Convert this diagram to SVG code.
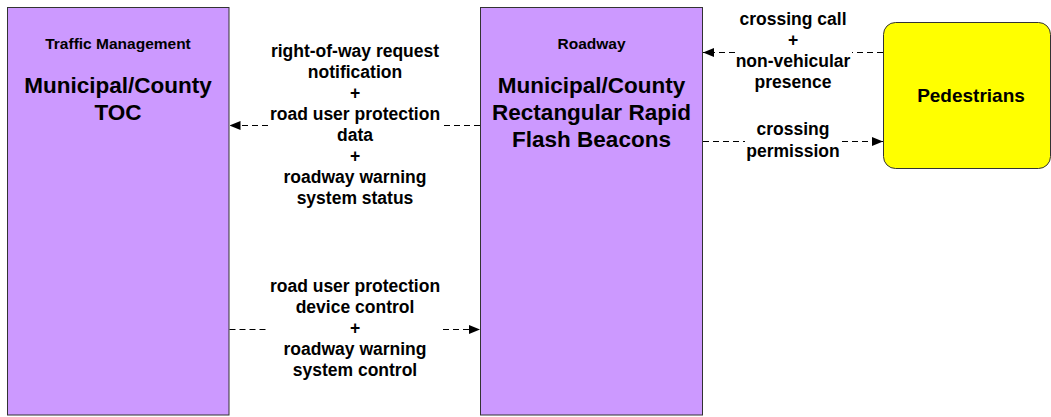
<svg xmlns="http://www.w3.org/2000/svg" width="1051" height="417" viewBox="0 0 1051 417">
<style>
text{font-family:"Liberation Sans",Arial,sans-serif;font-weight:bold;fill:#000;text-anchor:middle}
.box{fill:#CC99FF;stroke:#333;stroke-width:1}
.ext{fill:#FFFF00;stroke:#333;stroke-width:1}
.cat{font-size:15.5px}
.name{font-size:22.5px}
.ped{font-size:19px}
.lbl{font-size:17.5px}
.flow{fill:none;stroke:#000;stroke-width:1;stroke-dasharray:6,4}
</style>
<defs>
<marker id="arr" markerUnits="userSpaceOnUse" markerWidth="11" markerHeight="9" refX="11" refY="4.5" orient="auto">
<path d="M0,0 L11,4.5 L0,9 Z" fill="#000"/>
</marker>
</defs>
<rect width="1051" height="417" fill="#fff"/>
<g id="toc">
<rect class="box" x="7.5" y="7.5" width="221.5" height="407.5"/>
<text class="cat" x="118" y="49">Traffic Management</text>
<text class="name" x="118" y="92.7">Municipal/County</text>
<text class="name" x="118" y="120">TOC</text>
</g>
<g id="rrfb">
<rect class="box" x="480.5" y="7.5" width="222" height="407.5"/>
<text class="cat" x="591.5" y="49.3">Roadway</text>
<text class="name" x="591.5" y="92.7">Municipal/County</text>
<text class="name" x="591.5" y="120">Rectangular Rapid</text>
<text class="name" x="591.5" y="147.3">Flash Beacons</text>
</g>
<g id="pedestrians">
<rect class="ext" x="883.5" y="22.5" width="167" height="146" rx="12" ry="12"/>
<text class="ped" x="971" y="101.7">Pedestrians</text>
</g>
<g id="connectors">
<path class="flow" d="M480,125.5 L442,125.5 M268,125.5 L229.5,125.5" marker-end="url(#arr)"/>
<path class="flow" d="M229.5,329.5 L268,329.5 M443,329.5 L480,329.5" marker-end="url(#arr)"/>
<path class="flow" d="M883,52.5 L852,52.5 M735,52.5 L703,52.5" marker-end="url(#arr)"/>
<path class="flow" d="M703,141.5 L745,141.5 M842,141.5 L883,141.5" marker-end="url(#arr)"/>
</g>
<g id="labels">
<text class="lbl" x="355" y="56.5">right-of-way request</text>
<text class="lbl" x="355" y="77.6">notification</text>
<text class="lbl" x="355" y="98.7">+</text>
<text class="lbl" x="355" y="119.8">road user protection</text>
<text class="lbl" x="355" y="140.9">data</text>
<text class="lbl" x="355" y="162">+</text>
<text class="lbl" x="355" y="183.1">roadway warning</text>
<text class="lbl" x="355" y="204.2">system status</text>
<text class="lbl" x="355" y="291.6">road user protection</text>
<text class="lbl" x="355" y="312.7">device control</text>
<text class="lbl" x="355" y="333.8">+</text>
<text class="lbl" x="355" y="354.9">roadway warning</text>
<text class="lbl" x="355" y="376">system control</text>
<text class="lbl" x="793" y="25">crossing call</text>
<text class="lbl" x="793" y="46">+</text>
<text class="lbl" x="793" y="67">non-vehicular</text>
<text class="lbl" x="793" y="88">presence</text>
<text class="lbl" x="793" y="135">crossing</text>
<text class="lbl" x="793" y="156.5">permission</text>
</g>
</svg>
